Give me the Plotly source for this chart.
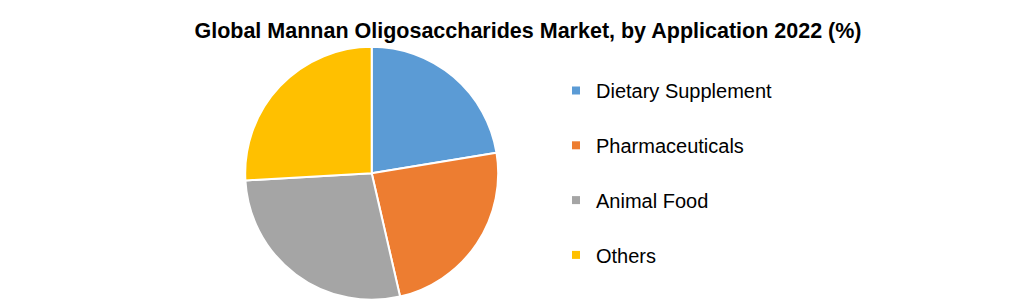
import plotly.graph_objects as go

labels = ["Dietary Supplement", "Pharmaceuticals", "Animal Food", "Others"]
values = [22.4, 24.0, 27.7, 25.9]
colors = ["#5B9BD5", "#ED7D31", "#A5A5A5", "#FFC000"]
title_text = "Global Mannan Oligosaccharides Market, by Application 2022 (%)"

W, H = 1021, 304
cx, cy, r = 371.7, 173.3, 126.5

fig = go.Figure()
fig.add_trace(go.Pie(
    labels=labels, values=values, sort=False, direction="clockwise", rotation=0,
    marker=dict(colors=colors, line=dict(color="white", width=2)),
    textinfo="none", hoverinfo="label+percent", showlegend=False,
    domain=dict(x=[(cx - r) / W, (cx + r) / W], y=[1 - (cy + r) / H, 1 - (cy - r) / H]),
))
for lab, col in zip(labels, colors):
    fig.add_trace(go.Scatter(
        x=[None], y=[None], mode="markers", name=lab, legendgroup=lab,
        marker=dict(symbol="square", size=8, color=col),
    ))

fig.update_layout(
    width=W, height=H,
    margin=dict(l=0, r=0, t=0, b=0),
    paper_bgcolor="white", plot_bgcolor="white",
    xaxis=dict(visible=False), yaxis=dict(visible=False),
    title=dict(text="<b>" + title_text + "</b>", x=528 / W, xanchor="center",
               y=1 - 30 / H, yanchor="middle",
               font=dict(family="Liberation Sans", size=21.5, color="black")),
    legend=dict(x=556 / W, xanchor="left", y=1 - 71 / H, yanchor="top",
                font=dict(family="Liberation Sans", size=20, color="black"),
                tracegroupgap=25.8, bgcolor="rgba(0,0,0,0)"),
)

fig.write_html("out.html")
